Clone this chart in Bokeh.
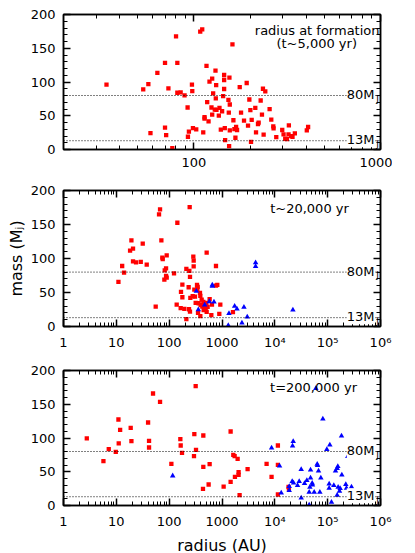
from bokeh.plotting import figure
from bokeh.layouts import column
from bokeh.models import Range1d, FixedTicker, LogAxis, LinearAxis, Span, Label
from bokeh.embed import file_html
from bokeh.resources import INLINE

FONT = "DejaVu Sans"

# ---------------- data ----------------
# Panel 1: radius at formation (t~5,000 yr)
r5 = [34.0, 53.5, 57.0, 58.5, 63.7, 70.0, 70.0, 71.0, 73.0, 76.6, 80.2, 81.5, 81.5, 84.9, 89.1,
      92.5, 92.9, 94.0, 97.6, 98.0, 98.8, 102.9, 108.1, 110.8, 112.2, 114.0, 114.0, 116.8, 117.8,
      119.8, 121.2, 124.2, 125.3, 125.3, 126.8, 129.4, 130.5, 131.0, 131.6, 132.1, 136.0, 137.1,
      139.4, 141.6, 143.4, 145.2, 145.2, 145.2, 146.4, 147.0, 153.1, 155.0, 154.4, 153.8, 155.7,
      155.7, 160.9, 162.8, 164.8, 166.9, 168.3, 170.3, 176.0, 178.9, 185.6, 191.8, 195.0, 198.2,
      200.7, 202.3, 204.0, 213.3, 215.2, 220.5, 222.3, 227.9, 234.4, 231.6, 236.4, 241.3, 254.5,
      259.8, 266.3, 267.3, 276.3, 297.4, 302.3, 308.6, 314.8, 321.4, 322.8, 332.1, 337.6, 347.5,
      402.7, 409.3]
m5 = [96.0, 89.1, 97.0, 24.4, 113.4, 128.4, 32.3, 21.4, 90.5, 2.0, 167.7, 128.4, 84.1, 84.6, 80.1,
      62.2, 18.9, 26.4, 96.0, 86.6, 31.8, 29.9, 174.6, 178.1, 25.4, 45.8, 47.8, 123.9, 70.1, 41.8,
      100.5, 62.2, 105.0, 51.7, 83.1, 59.2, 116.9, 75.6, 95.5, 58.7, 50.2, 61.7, 29.4, 56.7, 79.1,
      110.4, 103.0, 89.6, 31.8, 13.9, 73.6, 106.5, 5.0, 54.7, 66.7, 28.4, 155.7, 43.3, 30.3, 17.4,
      33.3, 28.9, 92.5, 54.7, 42.8, 98.5, 35.3, 74.1, 58.2, 11.4, 43.8, 61.7, 25.4, 37.8, 39.8,
      72.6, 90.0, 51.7, 21.9, 86.1, 59.7, 44.3, 34.3, 31.3, 18.4, 28.9, 22.4, 15.9, 15.4, 22.4,
      35.8, 19.9, 18.9, 23.9, 28.4, 33.3]

# Panel 2: t~20,000 yr
r20_red = [10.96, 12.9, 14.0, 19.3, 20.7, 18.2, 20.7, 23.6, 29.0, 31.6, 37.6, 55.6, 64.3, 67.2,
           71.2, 74.3, 75.5, 89.8, 82.4, 87.3, 87.3, 89.8, 81.1, 123.6, 142.9, 138.8, 165.2, 167.5,
           177.8, 177.8, 193.8, 211.5, 211.5, 240.9, 244.4, 233.9, 247.9, 237.5, 247.9, 251.6,
           278.6, 286.5, 291.0, 291.0, 299.4, 308.3, 317.5, 336.5, 346.1, 341.3, 351.6, 361.6,
           383.1, 388.9, 388.9, 394.5, 412.2, 424.6, 443.0, 449.8, 456.2, 476.5, 490.9, 505.0,
           512.6, 512.6, 534.6, 583.4, 628.1, 645.7, 769.1, 814.7, 769.1, 928.8, 889.2, 1611]
m20_red = [65.5, 89.0, 79.2, 126.7, 114.4, 111.5, 95.8, 94.4, 94.9, 121.8, 91.0, 29.3, 164.8,
           172.1, 126.7, 101.2, 99.3, 104.6, 82.6, 85.6, 74.3, 71.9, 68.9, 78.2, 152.6, 32.3, 26.9,
           50.9, 61.6, 43.0, 25.9, 10.8, 84.6, 81.7, 175.6, 57.7, 72.9, 25.4, 22.0, 42.1, 44.5,
           102.7, 96.8, 88.5, 54.3, 44.0, 34.7, 61.1, 58.2, 55.3, 20.0, 34.2, 49.4, 45.0, 15.2,
           31.3, 39.6, 29.3, 36.2, 24.0, 30.8, 33.7, 26.9, 34.7, 21.5, 108.6, 28.9, 40.1, 16.6,
           32.3, 60.1, 61.1, 89.0, 32.3, 18.6, 21.0]
r20_blue = [326.6, 356.5, 469.9, 655.6, 655.6, 704.7, 575.4, 1355, 1315, 1734, 1919, 2602, 3006,
            2385, 4325, 4325, 21970]
m20_blue = [51.8, 24.9, 31.8, 61.1, 59.2, 36.2, 36.7, 19.1, 1.5, 29.8, 25.9, 28.4, 14.2, 5.4,
            93.9, 88.5, 24.4]

# Panel 3: t=200,000 yr
r200_red = [2.76, 5.70, 7.19, 9.76, 10.96, 11.8, 11.1, 18.7, 19.3, 39.9, 41.6, 41.6, 49.5, 67.2,
            110.1, 162.8, 165.2, 175.0, 317.5, 299.4, 322.1, 295.1, 443.0, 443.0, 583.4, 436.6,
            558.5, 1074, 1456, 1456, 1636, 1734, 1976, 2061, 2061, 1758, 2154, 3052, 6982, 8671,
            11430, 11430, 18190, 18450, 11430]
m200_red = [99.3, 65.7, 83.5, 79.5, 127.4, 112.1, 91.9, 115.1, 95.3, 123.0, 95.8, 85.9, 165.9,
            153.6, 61.7, 98.3, 88.9, 78.0, 176.8, 105.7, 82.5, 73.1, 103.7, 57.3, 61.2, 24.7, 31.1,
            28.1, 109.6, 35.1, 75.1, 73.1, 69.1, 49.4, 45.4, 42.5, 15.3, 53.8, 61.7, 42.5, 88.9,
            60.2, 27.7, 25.2, 16.3]
r200_blue = [116.6, 8671, 12280, 13210, 22280, 21640, 21330, 22600, 18720, 18720, 26900, 28910,
             31550, 31550, 36480, 40380, 44670, 47410, 47410, 50930, 51640, 46000, 55560, 44670,
             59720, 63390, 64270, 67140, 71120, 74300, 81090, 96430, 109900, 106700, 106700,
             118100, 130800, 140700, 155600, 151300, 157800, 167500, 151300, 182800, 185400,
             172300, 220300, 227000, 240500, 282500]
m200_blue = [44.0, 85.4, 58.8, 18.8, 94.8, 88.4, 35.6, 33.6, 28.1, 22.2, 29.6, 35.6, 53.3, 11.4,
             32.6, 37.0, 19.8, 52.8, 41.0, 33.1, 30.6, 27.2, 19.8, 1.0, 173.3, 61.2, 59.3, 51.4,
             19.8, 41.0, 128.4, 83.0, 89.9, 32.1, 25.7, 4.9, 29.6, 51.4, 57.8, 54.8, 27.2, 21.2,
             15.3, 103.2, 45.4, 25.2, 31.1, 25.7, 72.6, 27.7]

mass_limits = [80, 13]
limit_labels = ["80M", "13M"]

y_major = [0, 50, 100, 150, 200]
y_minor = list(range(0, 201, 10))

x_major_top = [100, 1000]
x_minor_top = [30, 40, 50, 60, 70, 80, 90, 200, 300, 400, 500, 600, 700, 800, 900]

x_major = [1, 10, 100, 1000, 10000, 100000, 1000000]
x_major_labels = ["1", "10", "100", "1000", "10\u2074", "10\u2075", "10\u2076"]
x_minor = [k * 10 ** d for d in range(6) for k in range(2, 10)]


def style_axis(ax, labels=True):
    ax.major_tick_in = 7
    ax.major_tick_out = 0
    ax.minor_tick_in = 4
    ax.minor_tick_out = 0
    ax.axis_line_color = "black"
    ax.axis_line_width = 1.5
    ax.major_tick_line_color = "black"
    ax.major_tick_line_width = 1.5
    ax.minor_tick_line_color = "black"
    ax.minor_tick_line_width = 1
    ax.major_label_text_font = FONT
    ax.major_label_text_color = "black"
    if labels:
        ax.major_label_text_font_size = "13px"
        ax.major_label_standoff = 8
    else:
        ax.major_label_text_font_size = "2px"
        ax.major_label_text_alpha = 0
        ax.major_label_standoff = 0
    ax.axis_label_text_font = FONT
    ax.axis_label_text_font_size = "16px"
    ax.axis_label_text_font_style = "normal"
    ax.axis_label_text_color = "black"


def note(p, x, y, text, align="center", x_offset=0):
    p.add_layout(Label(x=x, y=y, text=text, text_align=align, text_baseline="middle",
                       x_offset=x_offset, text_font=FONT, text_font_size="13px",
                       text_color="black"))


def make_panel(xr, xmaj, xmin, xlabels, border_top, frame_h, border_bottom):
    p = figure(x_axis_type="log", x_range=Range1d(*xr), y_range=Range1d(0, 200),
               frame_width=317, frame_height=frame_h,
               min_border_left=63, min_border_right=12,
               min_border_top=border_top, min_border_bottom=border_bottom,
               output_backend="svg", toolbar_location=None)
    p.xgrid.visible = False
    p.ygrid.visible = False
    p.outline_line_color = "black"
    p.outline_line_width = 1.5
    p.background_fill_color = "white"
    p.border_fill_color = "white"

    xa = p.below[0]
    ya = p.left[0]
    xa.ticker = FixedTicker(ticks=xmaj, minor_ticks=xmin)
    ya.ticker = FixedTicker(ticks=y_major, minor_ticks=y_minor)
    xa.major_label_overrides = {t: l for t, l in zip(xmaj, xlabels)}
    style_axis(xa)
    style_axis(ya)

    top = LogAxis(ticker=FixedTicker(ticks=xmaj, minor_ticks=xmin))
    style_axis(top, labels=False)
    p.add_layout(top, "above")
    right = LinearAxis(ticker=FixedTicker(ticks=y_major, minor_ticks=y_minor))
    style_axis(right, labels=False)
    p.add_layout(right, "right")

    for lim in mass_limits:
        p.add_layout(Span(location=lim, dimension="width", line_color="black",
                          line_width=1, line_dash="1 2"))
    for lim, lab in zip(mass_limits, limit_labels):
        p.add_layout(Label(x=xr[1], y=lim, text=lab, text_align="right",
                           text_baseline="middle", x_offset=-6, y_offset=1,
                           text_font=FONT, text_font_size="13px", text_color="black",
                           background_fill_color="white"))
        p.add_layout(Label(x=xr[1], y=lim, text="J", text_align="right",
                           text_baseline="middle", x_offset=-1.5, y_offset=-3,
                           text_font=FONT, text_font_size="9px", text_color="black"))
    return p, xa, ya


# Panel 1
p1, _, _ = make_panel((20, 1000), x_major_top, x_minor_top, ["100", "1000"], 14, 135, 25)
p1.scatter(r5, m5, marker="square", size=4.3, fill_color="#ff0000", line_color=None)
note(p1, 1000, 177, "radius at formation", align="right", x_offset=-1)
note(p1, 455, 157, "(t~5,000 yr)")

# Panel 2
p2, _, ya2 = make_panel((1, 1e6), x_major, x_minor, x_major_labels, 16, 136, 28)
p2.scatter(r20_red, m20_red, marker="square", size=4.3, fill_color="#ff0000", line_color=None)
p2.scatter(r20_blue, m20_blue, marker="triangle", size=5.5, fill_color="#0000ff",
           line_color=None)
ya2.axis_label = "mass (M\u2c7c)"
ya2.axis_label_standoff = 2
note(p2, 45300, 174, "t~20,000 yr")

# Panel 3
p3, xa3, _ = make_panel((1, 1e6), x_major, x_minor, x_major_labels, 16, 135, 45)
p3.scatter(r200_red, m200_red, marker="square", size=4.3, fill_color="#ff0000", line_color=None)
p3.scatter(r200_blue, m200_blue, marker="triangle", size=5.5, fill_color="#0000ff",
           line_color=None)
xa3.axis_label = "radius (AU)"
xa3.axis_label_standoff = 4
note(p3, 54000, 175, "t=200,000 yr")

layout = column(p1, p2, p3, spacing=0)
open("out.html", "w").write(file_html(layout, INLINE))
